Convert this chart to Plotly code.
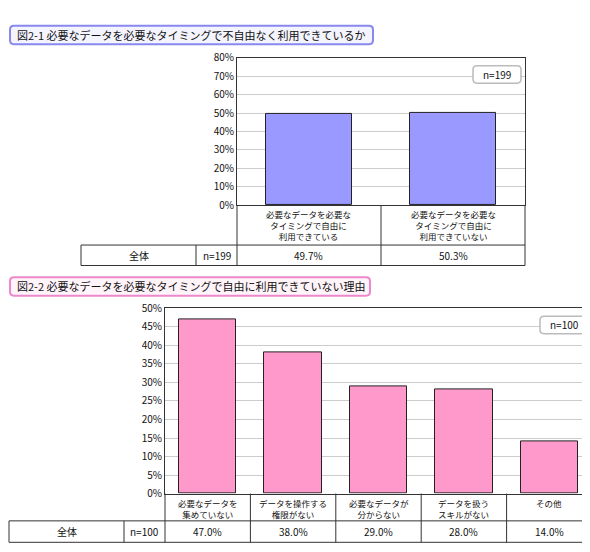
import plotly.graph_objects as go

cats1 = ["必要なデータを必要な<br>タイミングで自由に<br>利用できている", "必要なデータを必要な<br>タイミングで自由に<br>利用できていない"]
vals1 = [49.7, 50.3]
cats2 = ["必要なデータを<br>集めていない", "データを操作する<br>権限がない", "必要なデータが<br>分からない", "データを扱う<br>スキルがない", "その他"]
vals2 = [47.0, 38.0, 29.0, 28.0, 14.0]
title1 = "図2-1 必要なデータを必要なタイミングで不自由なく利用できているか"
title2 = "図2-2 必要なデータを必要なタイミングで自由に利用できていない理由"
n1, n2 = 199, 100

W, H = 590, 552
FONT = "Noto Sans CJK JP"
X = lambda p: p / W
Y = lambda p: 1 - p / H

fig = go.Figure()
fig.add_bar(x=list(range(len(vals1))), y=vals1, marker=dict(color="#9999ff", line=dict(color="#222", width=1)),
            width=0.6, xaxis="x", yaxis="y", hoverinfo="skip")
fig.add_bar(x=list(range(len(vals2))), y=vals2, marker=dict(color="#ff99cc", line=dict(color="#222", width=1)),
            width=0.67, xaxis="x2", yaxis="y2", hoverinfo="skip")

p1 = dict(l=229, r=517, t=43, b=194, lab=235, tab=256, tl=73, c1=188)
p2 = dict(l=157, r=584, t=300, b=490, lab=518, tab=540, tl=1, c1=116)

shapes, ann = [], []

def rounded(x0, y0, x1, y1, r, color, fill, width=2):
    path = (f"M{X(x0+r)},{Y(y0)} L{X(x1-r)},{Y(y0)} Q{X(x1)},{Y(y0)} {X(x1)},{Y(y0+r)} "
            f"L{X(x1)},{Y(y1-r)} Q{X(x1)},{Y(y1)} {X(x1-r)},{Y(y1)} L{X(x0+r)},{Y(y1)} "
            f"Q{X(x0)},{Y(y1)} {X(x0)},{Y(y1-r)} L{X(x0)},{Y(y0+r)} Q{X(x0)},{Y(y0)} {X(x0+r)},{Y(y0)} Z")
    shapes.append(dict(type="path", path=path, xref="paper", yref="paper",
                       line=dict(color=color, width=width), fillcolor=fill))

def line(x0, y0, x1, y1):
    shapes.append(dict(type="line", xref="paper", yref="paper", x0=X(x0), y0=Y(y0), x1=X(x1), y1=Y(y1),
                       line=dict(color="#333", width=1)))

def text(x, y, s, size=10, anchor="center", yanchor="middle"):
    ann.append(dict(x=X(x), y=Y(y), xref="paper", yref="paper", text=s, showarrow=False,
                    xanchor=anchor, yanchor=yanchor, font=dict(size=size, color="#111", family=FONT)))

def panel(p, cats, vals, n, title, tcol, tfill, ty0, ty1, tx1):
    rounded(2, ty0, tx1, ty1, 4, tcol, tfill)
    text(7, (ty0 + ty1) / 2, title, size=11, anchor="left")
    rounded(p["r"] - 52, p["t"] + 8, p["r"] - 4, p["t"] + 26, 4, "#bbb", "white", 1.5)
    text(p["r"] - 28, p["t"] + 17, f"n={n}")
    k = len(cats)
    cw = (p["r"] - p["l"]) / k
    line(p["l"], p["b"], p["l"], p["tab"])
    line(p["r"], p["b"], p["r"], p["tab"])
    for i in range(1, k):
        line(p["l"] + i * cw, p["b"], p["l"] + i * cw, p["tab"])
    line(p["tl"], p["lab"], p["r"], p["lab"])
    line(p["tl"], p["tab"], p["r"], p["tab"])
    line(p["tl"], p["lab"], p["tl"], p["tab"])
    line(p["c1"], p["lab"], p["c1"], p["tab"])
    mid = (p["lab"] + p["tab"]) / 2
    text((p["tl"] + p["c1"]) / 2, mid, "全体")
    text((p["c1"] + p["l"]) / 2, mid, f"n={n}")
    for i, (c, v) in enumerate(zip(cats, vals)):
        cx = p["l"] + (i + 0.5) * cw
        text(cx, p["b"] + 1, c, size=8.5, yanchor="top")
        text(cx, mid, f"{v:.1f}%")

panel(p1, cats1, vals1, n1, title1, "#8888ee", "#f4f4ff", 10, 29, 365)
panel(p2, cats2, vals2, n2, title2, "#ee88cc", "#fff4fa", 268, 287, 362)

axcommon = dict(showline=True, linecolor="#333", mirror=True, showticklabels=False, ticks="", fixedrange=True)
ycommon = dict(showline=True, linecolor="#333", mirror=True, gridcolor="#cccccc", ticksuffix="%",
               tickfont=dict(size=10, family=FONT, color="#111"), zeroline=False, ticks="")
fig.update_layout(
    width=W, height=H, margin=dict(l=0, r=0, t=0, b=0), showlegend=False,
    plot_bgcolor="white", paper_bgcolor="white", bargap=0,
    xaxis=dict(domain=[X(p1["l"]), X(p1["r"])], range=[-0.5, 1.5], anchor="y", **axcommon),
    yaxis=dict(domain=[Y(p1["b"]), Y(p1["t"])], range=[0, 80], dtick=10, anchor="x", **ycommon),
    xaxis2=dict(domain=[X(p2["l"]), X(p2["r"])], range=[-0.5, 4.5], anchor="y2", **axcommon),
    yaxis2=dict(domain=[Y(p2["b"]), Y(p2["t"])], range=[0, 50], dtick=5, anchor="x2", **ycommon),
    shapes=shapes, annotations=ann,
)
fig.write_html("out.html")
